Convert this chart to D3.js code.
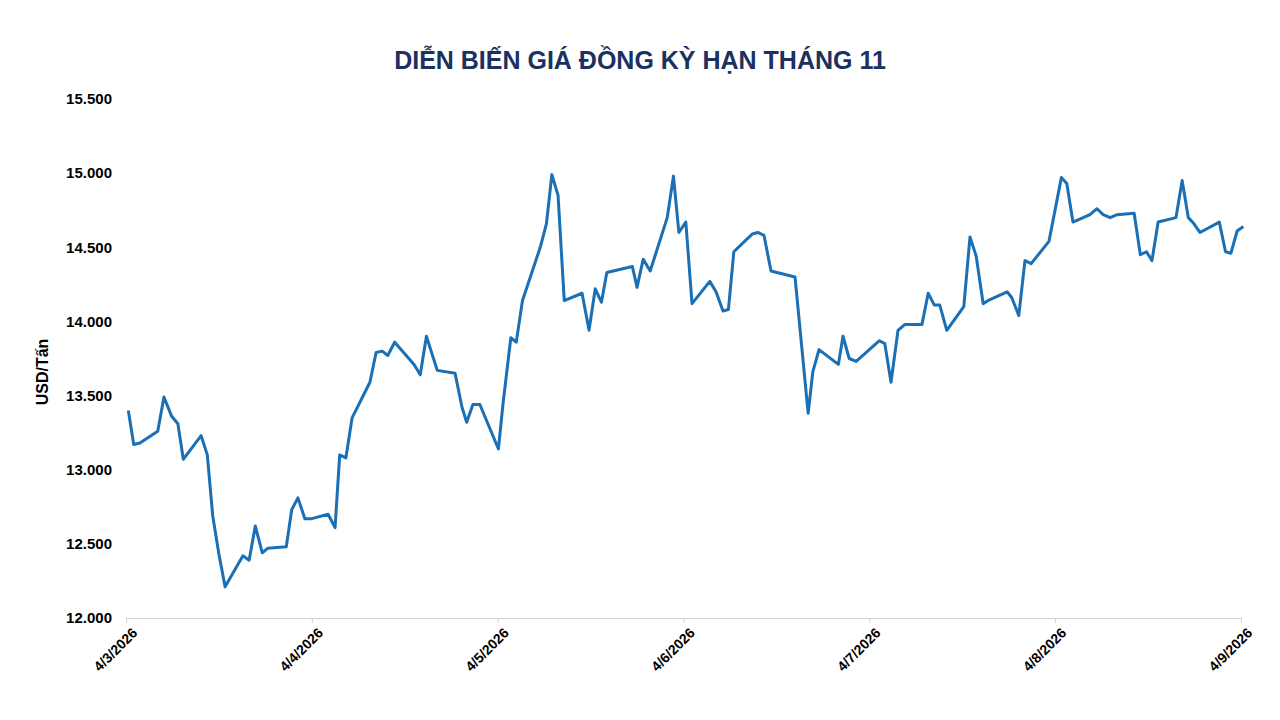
<!DOCTYPE html>
<html><head><meta charset="utf-8">
<script src="https://cdn.jsdelivr.net/npm/d3@7"></script>
<style>body{margin:0;background:#fff;font-family:Arial,"Liberation Sans",sans-serif;}</style>
</head><body><svg id="c" width="1280" height="720"></svg>
<script>
const title = "DIỄN BIẾN GIÁ ĐỒNG KỲ HẠN THÁNG 11";
const yLabel = "USD/Tấn";
const dateLabels = ["4/3/2026","4/4/2026","4/5/2026","4/6/2026","4/7/2026","4/8/2026","4/9/2026"];
const dateHours = [0,24,48,72,96,120,144];
const yTicks = [12000,12500,13000,13500,14000,14500,15000,15500];
// hours since 4/3/2026 00:00
const hours = [0.3,1.0,1.8,4.1,4.9,5.9,6.7,7.4,9.7,10.5,11.2,12.0,12.8,15.1,15.9,16.7,17.6,18.3,20.7,21.4,22.2,23.1,24.0,26.1,27.0,27.6,28.4,29.2,31.5,32.3,33.1,33.8,34.7,37.2,38.0,38.8,40.2,42.5,43.4,44.0,44.8,45.7,48.1,48.7,49.7,50.4,51.2,53.5,54.3,55.0,55.8,56.6,58.9,59.8,60.6,61.4,62.1,65.4,66.0,66.8,67.7,69.9,70.7,71.4,72.3,73.1,75.4,76.2,77.1,77.8,78.5,80.9,81.6,82.4,83.3,86.4,88.1,88.7,89.5,92.0,92.6,93.4,94.3,97.3,98.0,98.8,99.7,100.6,102.8,103.6,104.4,105.1,106.0,108.2,109.0,109.8,110.7,111.3,113.8,114.4,115.3,116.1,116.9,119.2,120.8,121.5,122.3,124.5,125.4,126.2,127.1,128.0,130.2,131.0,131.8,132.5,133.3,135.6,136.4,137.2,137.9,138.7,141.2,142.0,142.7,143.5,144.3];
const prices = [13400,13170,13180,13260,13490,13360,13310,13070,13230,13100,12690,12430,12210,12420,12390,12620,12440,12470,12480,12730,12810,12670,12670,12700,12610,13100,13080,13350,13590,13790,13800,13770,13860,13710,13640,13900,13670,13650,13420,13320,13440,13440,13140,13450,13890,13860,14140,14500,14660,14990,14850,14140,14190,13940,14220,14130,14330,14370,14230,14420,14340,14700,14980,14600,14670,14120,14270,14200,14070,14080,14470,14590,14600,14580,14340,14300,13380,13660,13810,13710,13900,13750,13730,13870,13850,13590,13940,13980,13980,14190,14110,14110,13940,14100,14570,14440,14120,14140,14200,14160,14040,14410,14390,14540,14970,14930,14670,14720,14760,14720,14700,14720,14730,14450,14470,14410,14670,14700,14950,14700,14660,14600,14670,14470,14460,14610,14640];

const svg = d3.select("#c");
const x = d3.scaleLinear().domain([0,144]).range([126,1241]);
const y = d3.scaleLinear().domain([12000,15500]).range([618,99]);

svg.append("text").attr("x",640).attr("y",69).attr("text-anchor","middle")
  .attr("font-size",25).attr("font-weight","bold").attr("fill","#1c3160").text(title);

const ya = svg.append("g").attr("transform","translate(126,0)")
  .call(d3.axisLeft(y).tickValues(yTicks).tickSize(0).tickPadding(14)
  .tickFormat(d=>d3.format(",")(d).replace(/,/g,".")));
ya.select(".domain").remove();
ya.selectAll("text").attr("font-size",15).attr("font-weight","bold").attr("fill","#000").attr("font-family","Arial,'Liberation Sans',sans-serif");

const xa = svg.append("g").attr("transform","translate(0,618)")
  .call(d3.axisBottom(x).tickValues(dateHours).tickSize(5).tickFormat((d,i)=>dateLabels[i]));
xa.select(".domain").attr("stroke","#d0d0d0");
xa.selectAll("line").attr("stroke","#d0d0d0");
xa.selectAll("text").attr("font-size",14).attr("font-weight","bold").attr("fill","#000")
  .attr("font-family","Arial,'Liberation Sans',sans-serif")
  .attr("text-anchor","end").attr("dy",0).attr("dx",0)
  .attr("transform","translate(6,10) rotate(-45)");

svg.append("text").attr("transform","translate(48,372) rotate(-90)").attr("text-anchor","middle")
  .attr("font-size",16).attr("font-weight","bold").attr("fill","#000").text(yLabel);

const data = hours.map((h,i)=>[h,prices[i]]);
svg.append("path").datum(data).attr("fill","none").attr("stroke","#1a6fb5").attr("stroke-width",3)
  .attr("stroke-linejoin","round").attr("d",d3.line().x(d=>x(d[0])).y(d=>y(d[1])));
</script></body></html>
